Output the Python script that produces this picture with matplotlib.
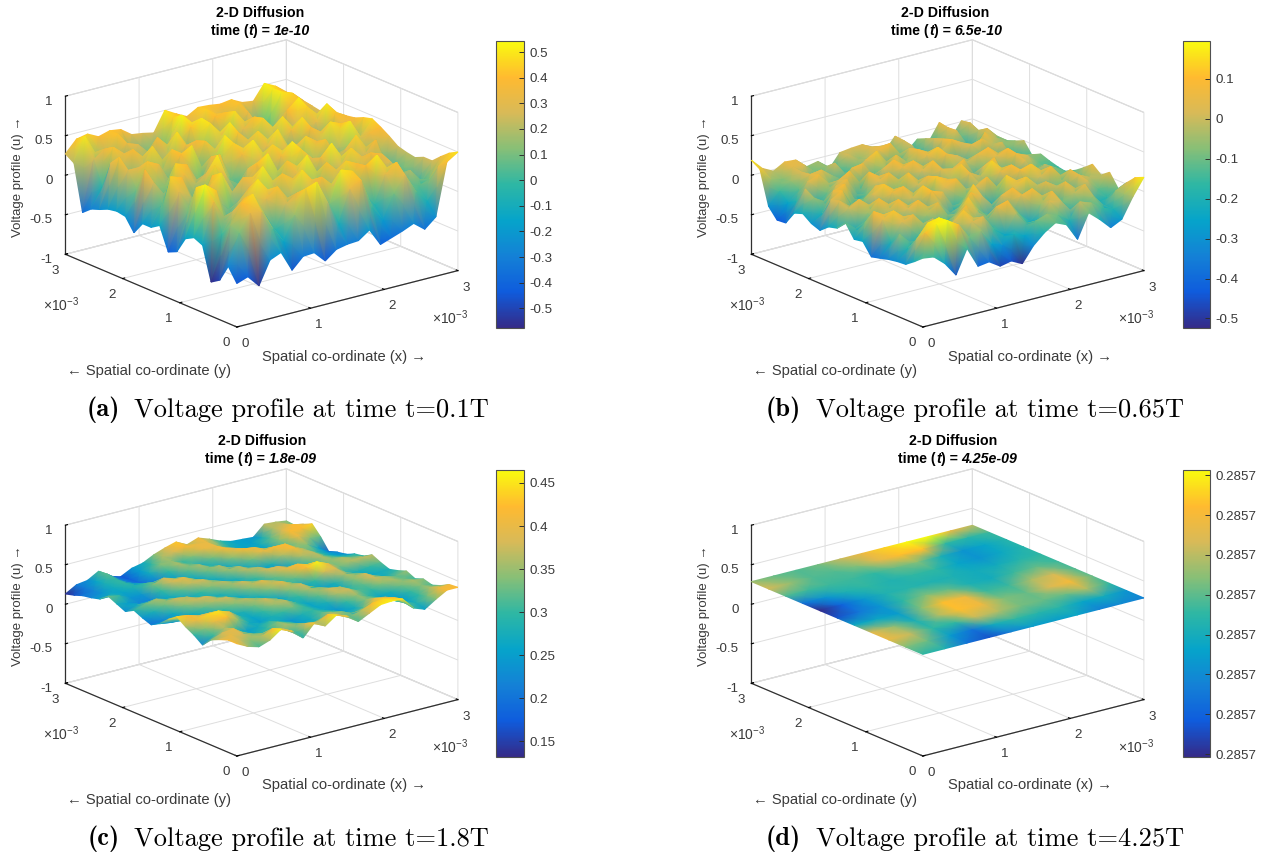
import numpy as np
import matplotlib
matplotlib.use("Agg")
import matplotlib.pyplot as plt
from matplotlib.colors import LinearSegmentedColormap, Normalize
from matplotlib.cm import ScalarMappable
from mpl_toolkits.mplot3d import proj3d

# ---------------- data (rows: y = 0 .. 3e-3, columns: x = 0 .. 3e-3) ----------------
volt_a = [
[-.45,-.4,-.55,-.26,-.2,-.46,-.32,-.31,-.45,-.34,-.31,-.3,-.2,-.42,-.37,-.32,-.26,-.37,-.25,.41,.5],
[-.28,.1,.32,.3,.05,-.15,.15,.45,.5,.2,-.1,.3,.38,0,-.2,.1,.3,.05,-.1,.3,.44],
[-.5,.15,.4,.48,.2,-.05,.25,.35,.3,-.05,.1,.5,.45,.15,-.05,.3,.42,.1,.05,.1,.35],
[-.57,0,.25,.38,.15,.3,.42,.1,-.1,.25,.4,.25,.05,.1,.4,.5,.15,-.1,.2,0,.25],
[-.15,.35,.1,0,.3,.5,.28,-.1,.2,.48,.3,-.05,.2,.45,.38,.1,-.05,.3,.12,-.1,.25],
[-.1,.53,.42,-.05,.2,.35,.05,.15,.42,.32,0,.15,.42,.25,0,.2,.4,.35,-.1,.1,.2],
[-.16,.45,.3,.2,.05,-.1,.3,.5,.22,-.05,.3,.5,.1,-.1,.25,.45,.3,0,.15,.05,.22],
[-.37,.1,-.05,.35,.48,.2,.35,.3,-.1,.15,.42,.2,-.05,.35,.5,.15,-.1,.25,.4,-.05,.25],
[-.42,.3,.2,.1,.4,.1,-.05,.2,.4,.5,.05,.1,.45,.3,.05,0,.3,.45,.1,.15,.33],
[-.13,.45,.4,-.05,.05,.45,.28,-.05,.3,.35,-.1,.35,.5,.05,.15,.42,.2,0,.15,.35,.4],
[-.2,.05,.25,.35,.2,.3,.5,.15,0,.1,.3,.45,.2,-.05,.45,.35,-.05,.2,.5,.25,.46],
[-.2,.28,0,.45,.4,-.05,.25,.42,.05,.35,.5,.1,0,.3,.3,.05,.2,.48,.42,.05,.43],
[-.36,.4,.15,.1,.25,.2,.05,.35,.2,.45,.25,-.1,.3,.48,.05,-.1,.4,.3,.05,.3,.38],
[-.2,.1,.42,.35,-.05,.4,.48,-.05,.1,.5,.1,.2,.45,.15,0,.35,.48,.05,-.1,.42,.36],
[-.18,.3,.3,.05,.15,.42,.2,.05,.42,.25,-.1,.42,.25,-.05,.2,.48,.1,-.05,.3,.5,.3],
[-.2,.42,-.05,.2,.45,.1,-.1,.35,.38,-.05,.2,.5,.05,.1,.45,.22,0,.25,.45,.2,.24],
[-.25,.3,.2,.4,.2,-.1,.2,.48,.05,.1,.48,.3,-.1,.3,.42,.05,-.15,.4,.52,0,.28],
[-.29,-.05,.42,.3,-.05,.15,.4,.15,-.1,.42,.5,.05,.1,.48,.2,.25,-.2,.2,.35,.38,.3],
[-.38,.25,.35,-.05,.35,.3,0,-.15,.25,.53,.3,-.05,.4,.42,-.05,.35,0,.05,.5,.45,.32],
[.2,.5,.1,.2,.42,.1,-.1,.1,.05,.45,.42,.25,.45,.3,.2,.42,.15,-.05,.5,.4,.33],
[.27,.42,.45,.38,.42,.4,.3,.28,.25,.5,.42,.35,.43,.42,.4,.42,.35,.33,.52,.45,.34],
]
volt_b = [
[-.13,-.15,-.27,-.45,-.15,-.41,-.39,-.48,-.45,-.52,-.33,-.2,-.11,-.17,-.39,-.09,-.21,-.35,-.28,-.03,.18],
[-.22,.1,.18,.19,.1,-.1,-.05,-.25,-.3,-.2,-.25,-.1,-.05,-.1,-.2,0,-.05,-.15,-.2,-.05,.13],
[-.3,-.02,.15,.18,0,-.2,.02,.05,-.15,-.25,-.02,-.18,-.2,.03,0,-.25,-.15,-.05,-.22,-.05,.02],
[-.31,-.18,-.12,-.05,-.22,0,.12,-.08,-.2,.06,.1,-.1,-.25,-.05,.08,-.1,-.02,.06,-.22,-.18,-.1],
[-.33,-.05,-.22,-.15,.04,-.15,-.02,.1,-.02,-.12,-.05,-.22,.05,.1,-.08,-.2,.08,-.12,.02,-.12,.06],
[-.36,-.2,.02,.08,-.08,-.25,-.12,-.05,.12,-.1,-.25,.04,.1,-.18,-.22,.07,-.02,-.2,.05,-.02,-.02],
[-.39,.04,.12,-.02,-.2,-.05,.08,-.2,-.05,.1,.02,-.15,-.08,0,.12,-.02,-.22,-.1,.07,-.1,.07],
[-.24,.1,0,-.18,.02,.1,-.05,-.02,-.25,-.08,.12,-.2,-.22,.13,.02,-.2,0,.1,-.1,-.15,-.02],
[-.26,-.08,-.2,-.02,.1,-.12,-.25,.1,.05,-.2,-.1,.02,.1,-.1,-.25,.08,.12,-.05,-.22,-.12,-.1],
[-.1,-.22,-.05,.1,-.05,-.2,0,.12,-.1,.02,.1,-.12,-.02,-.22,.05,.1,-.15,-.2,0,-.08,-.17],
[-.21,0,.08,-.08,-.25,.06,.1,-.15,-.22,.12,.05,-.25,.06,-.02,.14,-.08,-.25,.03,-.1,-.15,-.15],
[-.24,.05,-.18,-.22,.02,.12,-.05,-.25,0,.08,-.15,-.05,.12,-.2,.02,.1,-.18,.08,.02,-.1,-.12],
[-.33,.02,.1,-.15,-.08,.05,-.2,-.1,.11,-.12,-.25,.05,.02,.1,-.22,-.1,.04,.1,-.18,-.05,-.08],
[-.29,-.2,.05,.1,-.22,-.1,.02,.1,-.05,-.2,.02,.11,-.15,-.08,-.02,.05,.1,-.12,-.22,-.1,-.15],
[-.21,-.05,-.15,.03,.08,-.2,.1,-.02,-.2,.05,.1,-.1,-.25,.08,.02,-.15,-.12,-.2,.05,-.18,0],
[-.25,.02,-.22,-.1,.02,.1,-.15,-.22,.02,.1,-.08,-.2,.05,.12,-.15,-.22,.04,.08,-.02,-.08,-.05],
[-.42,-.18,.03,.08,-.1,-.2,.06,.08,-.15,-.05,.08,-.05,.08,-.05,-.02,.1,.02,-.12,.08,-.02,-.09],
[-.43,-.25,-.12,.04,.06,-.05,-.18,-.05,.04,.12,-.2,-.15,.05,-.22,-.25,.06,-.12,-.18,-.1,.05,-.1],
[-.3,-.15,-.06,.02,-.15,-.2,.03,-.18,-.1,-.02,.05,.1,-.12,0,-.2,.02,-.08,.05,-.22,-.02,-.12],
[.12,-.05,-.08,.04,.03,-.1,-.06,-.12,.02,-.06,.04,.02,-.1,.02,-.18,-.03,-.12,.04,-.12,.03,-.23],
[.19,.05,-.02,.06,.05,-.07,-.04,-.18,0,.02,.03,-.07,-.14,.03,-.21,-.08,-.16,.06,-.19,.01,-.1],
]
volt_c = [
[.42,.35,.31,.36,.46,.4,.28,.43,.36,.46,.41,.31,.38,.45,.46,.45,.3,.25,.34,.42,.42],
[.42,.38,.34,.36,.42,.38,.3,.38,.36,.42,.38,.32,.36,.42,.44,.42,.32,.28,.33,.4,.41],
[.38,.4,.38,.34,.3,.32,.36,.33,.28,.3,.36,.34,.28,.32,.4,.38,.3,.26,.3,.36,.35],
[.33,.38,.4,.3,.27,.3,.34,.3,.25,.27,.32,.3,.25,.27,.34,.33,.27,.25,.3,.34,.31],
[.22,.3,.36,.3,.25,.27,.3,.27,.24,.28,.3,.27,.24,.3,.35,.3,.26,.28,.33,.36,.34],
[.3,.34,.4,.42,.34,.27,.25,.28,.3,.33,.3,.26,.28,.36,.38,.32,.3,.34,.36,.33,.3],
[.36,.4,.44,.45,.4,.3,.26,.3,.35,.37,.3,.26,.32,.38,.36,.3,.32,.38,.35,.32,.35],
[.44,.42,.38,.38,.34,.27,.28,.33,.38,.34,.27,.3,.36,.34,.28,.27,.34,.38,.3,.28,.31],
[.36,.32,.27,.26,.26,.3,.34,.37,.34,.27,.26,.34,.38,.3,.25,.28,.36,.33,.26,.27,.28],
[.26,.24,.24,.28,.32,.36,.38,.33,.27,.28,.34,.4,.34,.26,.3,.38,.38,.28,.28,.3,.32],
[.2,.22,.27,.34,.38,.38,.33,.28,.27,.34,.4,.36,.3,.32,.42,.46,.4,.33,.36,.37,.37],
[.24,.28,.33,.38,.36,.3,.27,.28,.33,.38,.34,.28,.32,.4,.42,.38,.33,.34,.36,.33,.31],
[.29,.33,.36,.32,.27,.26,.3,.34,.37,.33,.27,.3,.38,.38,.3,.27,.31,.36,.32,.29,.29],
[.23,.27,.27,.25,.27,.32,.37,.38,.33,.26,.28,.37,.36,.27,.22,.27,.36,.37,.3,.26,.24],
[.28,.25,.22,.22,.3,.38,.4,.34,.27,.27,.35,.36,.28,.25,.28,.36,.42,.36,.3,.25,.22],
[.33,.3,.24,.24,.33,.38,.34,.27,.26,.33,.36,.28,.26,.33,.4,.42,.42,.34,.34,.26,.17],
[.25,.27,.26,.28,.3,.28,.25,.25,.32,.36,.3,.26,.34,.42,.4,.33,.28,.32,.4,.34,.32],
[.22,.24,.27,.3,.25,.2,.22,.3,.36,.32,.27,.33,.42,.38,.3,.24,.26,.34,.42,.42,.44],
[.2,.22,.28,.3,.22,.19,.27,.34,.35,.3,.34,.4,.4,.32,.26,.25,.27,.32,.38,.42,.39],
[.16,.21,.26,.32,.22,.18,.25,.3,.36,.38,.42,.4,.4,.34,.28,.26,.25,.28,.36,.38,.33],
[.13,.21,.23,.31,.21,.17,.24,.27,.34,.39,.43,.36,.41,.36,.3,.26,.25,.24,.37,.36,.34],
]
# panel d: the surface is flat; only the colour fraction (0-1 of the colour bar) varies
level_d = 0.2857
frac_d = [
[.5,.45,.2,.1,.25,.35,.35,.38,.25,.28,.25],
[.62,.58,.35,.2,.42,.5,.48,.48,.38,.42,.32],
[.82,.72,.5,.5,.72,.68,.6,.58,.58,.68,.5],
[.78,.65,.45,.68,.88,.82,.62,.58,.75,.85,.58],
[.4,.4,.35,.62,.88,.82,.52,.52,.68,.75,.55],
[.1,.22,.32,.5,.62,.58,.45,.42,.52,.58,.52],
[0,.15,.33,.46,.48,.46,.45,.42,.42,.48,.5],
[.2,.32,.45,.5,.46,.5,.5,.38,.32,.4,.48],
[.55,.52,.52,.52,.5,.58,.62,.45,.32,.38,.48],
[.75,.65,.55,.55,.62,.78,.88,.88,.5,.48,.52],
[.65,.58,.55,.6,.72,.82,.92,1.0,1.0,.82,.7],
]
xy_ticks = [0, 0.001, 0.002, 0.003]
xy_ticklabels = ['0', '1', '2', '3']
z_ticks = [-1, -0.5, 0, 0.5, 1]
z_ticklabels = ['-1', '-0.5', '0', '0.5', '1']
titles = ['1e-10', '6.5e-10', '1.8e-09', '4.25e-09']
captions = ['t=0.1T', 't=0.65T', 't=1.8T', 't=4.25T']
letters = ['(a)', '(b)', '(c)', '(d)']
cb_limits = [(-.577, .543), (-.524, .195), (.132, .465), (0, 1)]
cb_ticks = [
    [-.5, -.4, -.3, -.2, -.1, 0, .1, .2, .3, .4, .5],
    [-.5, -.4, -.3, -.2, -.1, 0, .1],
    [.15, .2, .25, .3, .35, .4, .45],
    [.0104, .1491, .2878, .4265, .5652, .7039, .8426, .9813],
]
cb_labels = [
    ['-0.5', '-0.4', '-0.3', '-0.2', '-0.1', '0', '0.1', '0.2', '0.3', '0.4', '0.5'],
    ['-0.5', '-0.4', '-0.3', '-0.2', '-0.1', '0', '0.1'],
    ['0.15', '0.2', '0.25', '0.3', '0.35', '0.4', '0.45'],
    ['0.2857'] * 8,
]
# ---------------- style / layout ----------------
parula = LinearSegmentedColormap.from_list('parula_like', [
    '#352a87', '#0f5cdd', '#1481d6', '#06a4ca', '#2eb7a4',
    '#87bf77', '#d8ba58', '#ffba30', '#f9fb0e'], N=256)
W, H = 1262, 857
plt.rcParams['font.family'] = ['Liberation Sans', 'DejaVu Sans']
plt.rcParams['mathtext.fontset'] = 'custom'
plt.rcParams['mathtext.rm'] = 'Liberation Sans'
plt.rcParams['mathtext.default'] = 'regular'
plt.rcParams['axes3d.automargin'] = False
TXT = '#3a3a3a'
DARK = '#303030'
FS = 9.6
fig = plt.figure(figsize=(W / 100, H / 100), dpi=100, facecolor='white')
ov = fig.add_axes([0, 0, 1, 1], zorder=10)
ov.set_autoscale_on(False)
ov.set_xlim(0, W)
ov.set_ylim(H, 0)
ov.axis('off')
ov.patch.set_visible(False)
shifts = [(0, 0), (686, 0), (0, 429), (686, 429)]
title_cx = [[260, 260.7], [945.4, 947], [261.8, 261], [953, 958]]
cb_x = [(496.4, 523.6), (1182.5, 1210), (496.4, 523.6), (1182.5, 1210)]
cb_y = (41, 328)
cap_x = [(87, 134), (765.7, 815.7), (87.5, 134), (765.7, 815.7)]
cap_y = [410, 410, 839, 839]


def project(ax, x, y, z):
    a, b, _ = proj3d.proj_transform(np.ravel(x), np.ravel(y), np.ravel(z), ax.get_proj())
    pts = ax.transData.transform(np.column_stack([a, b]))
    return ov.transData.inverted().transform(pts)


def pieces(cx, cy, parts, size):
    rend = fig.canvas.get_renderer()
    arts = [ov.text(0, cy, s, fontsize=size, va='center', ha='left', color='black', **kw) for s, kw in parts]
    widths = [a.get_window_extent(rend).width for a in arts]
    xx = cx - sum(widths) / 2
    for a, w in zip(arts, widths):
        a.set_x(xx)
        xx += w


for k in range(4):
    dx, dy = shifts[k]
    ax = fig.add_axes([0.1, 0.1, 0.4, 0.4 * W / H], projection='3d', proj_type='ortho')
    ax.patch.set_visible(False)
    ax.set_xlim(0, 0.003, view_margin=0)
    ax.set_ylim(0, 0.003, view_margin=0)
    ax.set_zlim(-1, 1, view_margin=0)
    ax.view_init(elev=19.2, azim=-127.8)
    ax.set_box_aspect((280, 280, 167.6))
    # place the box so that its floor corners fall where the reference has them
    ax.apply_aspect()
    ref = np.array([[0, 0.003, -1], [0.003, 0, -1]])
    a, b, _ = proj3d.proj_transform(ref[:, 0], ref[:, 1], ref[:, 2], ax.get_proj())
    uv = ax.transAxes.inverted().transform(ax.transData.transform(np.column_stack([a, b])))
    S = (457.9 - 65.4) / (uv[1, 0] - uv[0, 0])
    L = 65.4 + dx - S * uv[0, 0]
    B = (H - (254.3 + dy)) - S * uv[0, 1]
    ax.set_position([L / W, B / H, S / W, S / H])
    ax.apply_aspect()

    ax.set_xticks(xy_ticks, xy_ticklabels)
    ax.set_yticks(xy_ticks, xy_ticklabels)
    ax.set_zticks(z_ticks, z_ticklabels)
    ax.tick_params(labelsize=FS, labelcolor=TXT, pad=-0.5)
    ax.tick_params(axis='z', pad=-3)
    ax.zaxis.set_ticks_position('upper')
    for t in ax.zaxis.get_ticklabels():
        t.set_ha('right')
    for axis in (ax.xaxis, ax.yaxis, ax.zaxis):
        axis.set_pane_color((1, 1, 1, 1))
        axis.pane.set_edgecolor('#d0d0d0')
        axis.pane.set_linewidth(0.8)
        axis._axinfo['grid'].update(color='#dedede', linewidth=0.7)
        axis._axinfo['tick'].update(inward_factor=0.0, outward_factor=0.12, linewidth={True: .8, False: .8}, color=DARK)
        axis.line.set_color(DARK)
        axis.line.set_linewidth(0.9)
    # surface, with the colour interpolated across each cell (back rows first)
    if k < 3:
        Z = np.array([volt_a, volt_b, volt_c][k], dtype=float)
        C = Z
    else:
        C = np.array(frac_d, dtype=float)
        Z = np.full_like(C, level_d)
    n = Z.shape[0]
    gx, gy = np.meshgrid(np.linspace(0, 0.003, n), np.linspace(0, 0.003, n))
    p = project(ax, gx[::-1, ::-1], gy[::-1, ::-1], Z[::-1, ::-1])
    norm = Normalize(*cb_limits[k])
    ov.pcolormesh(p[:, 0].reshape(n, n), p[:, 1].reshape(n, n), C[::-1, ::-1],
                  shading='gouraud', cmap=parula, norm=norm)
    # colour bar
    x0, x1 = cb_x[k]
    cax = fig.add_axes([x0 / W, 1 - (cb_y[1] + dy) / H, (x1 - x0) / W, (cb_y[1] - cb_y[0]) / H])
    cb = fig.colorbar(ScalarMappable(norm=norm, cmap=parula), cax=cax)
    cb.set_ticks(cb_ticks[k], labels=cb_labels[k])
    cb.ax.tick_params(direction='in', length=3.5, width=0.7, labelsize=FS, labelcolor=TXT, color=DARK, pad=4)
    cb.outline.set_edgecolor('#505050')
    cb.outline.set_linewidth(0.8)
    # titles
    tc = title_cx[k]
    ov.text(tc[0], 12.5 + dy - (1 if k > 1 else 0), '2-D Diffusion', ha='center', va='center', fontsize=10.2,
            fontweight='bold', color='black')
    pieces(tc[1], 30.5 + dy - (1 if k > 1 else 0),
           [('time (', dict(fontweight='bold')), ('t', dict(fontweight='bold', fontstyle='italic')),
            (') = ', dict(fontweight='bold')), (titles[k], dict(fontweight='bold', fontstyle='italic'))], 10.2)
    # axis labels
    ov.text(262.5 + dx, 356.5 + dy, 'Spatial co-ordinate (x) \u2192', fontsize=10.6, color=TXT, va='center', ha='left')
    ov.text(67 + dx, 371 + dy, '\u2190 Spatial co-ordinate (y)', fontsize=10.6, color=TXT, va='center', ha='left')
    ov.text(18 + dx, 176.5 + dy, 'Voltage profile (u) \u2192', fontsize=9.5, color=TXT, va='center', ha='center',
            rotation=90)
    ov.text(43 + dx, 304.5 + dy, r'$\times$10$^{-3}$', fontsize=FS + .4, color=TXT, va='center', ha='left')
    ov.text(432 + dx, 317.5 + dy, r'$\times$10$^{-3}$', fontsize=FS + .4, color=TXT, va='center', ha='left')
    # caption
    ov.text(cap_x[k][0], cap_y[k], letters[k], fontsize=19, family='cmb10', va='center', ha='left', color='black')
    ov.text(cap_x[k][1], cap_y[k], 'Voltage profile at time ' + captions[k], fontsize=19, family='cmr10',
            va='center', ha='left', color='black')

ov.set_xlim(0, W)
ov.set_ylim(H, 0)
fig.savefig('out.png', dpi=100, facecolor='white')
